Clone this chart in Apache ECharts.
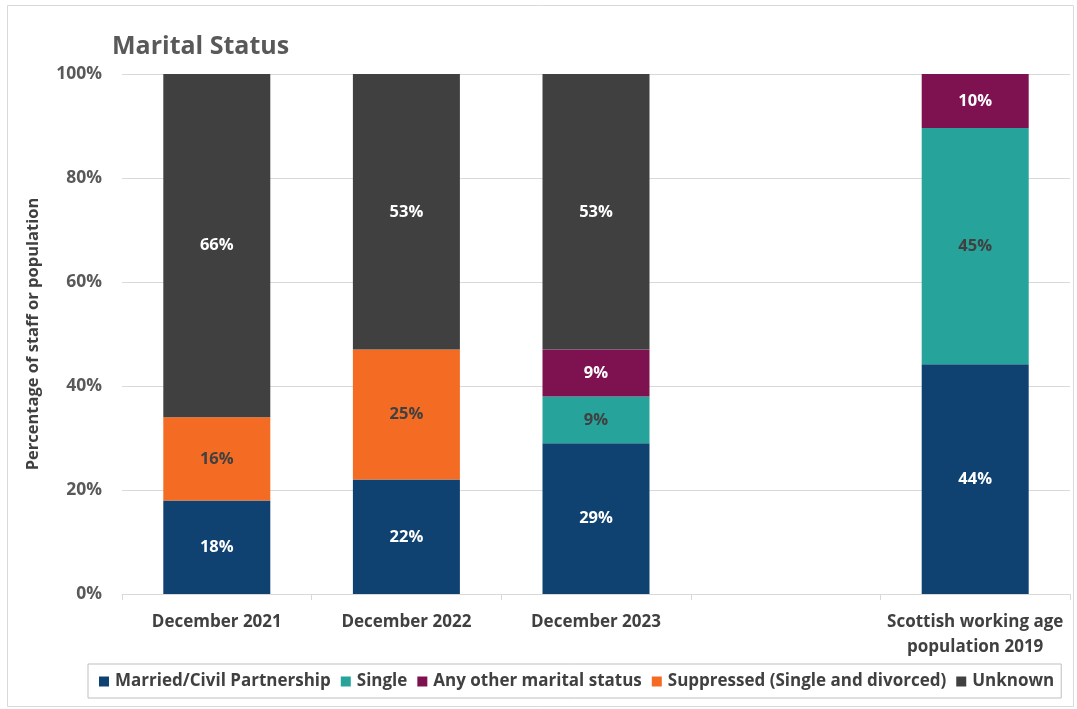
<!DOCTYPE html>
<html>
<head>
<meta charset="utf-8">
<title>Marital Status</title>
<script src="https://cdn.jsdelivr.net/npm/echarts@6/dist/echarts.min.js"></script>
<style>
  html, body { margin: 0; padding: 0; background: #ffffff; }
  #chart { width: 1077px; height: 709px; }
</style>
</head>
<body>
<div id="chart"></div>
<script>
// Categories along the x axis (the fourth slot is a deliberate gap)
const categories = [
  'December 2021',
  'December 2022',
  'December 2023',
  '',
  'Scottish working age\npopulation 2019'
];

// Percentage of staff or population in each marital status group
const married    = [18, 22, 29, null, 44.2];
const single     = [null, null, 9, null, 45.4];
const otherStat  = [null, null, 9, null, 10.4];
const suppressed = [16, 25, null, null, null];
const unknown    = [66, 53, 53, null, null];

const yTicks = [0, 20, 40, 60, 80, 100];

const FONT = '"Open Sans", Lato, sans-serif';

function seg(name, data, color, labelColor) {
  return {
    name: name,
    type: 'bar',
    stack: 'total',
    data: data,
    barWidth: 107,
    itemStyle: { color: color },
    label: {
      show: true,
      position: 'inside',
      color: labelColor,
      fontFamily: FONT,
      fontWeight: 'bold',
      fontSize: 16.5,
      formatter: p => (p.value == null ? '' : Math.round(p.value) + '%')
    },
    emphasis: { disabled: true }
  };
}

const chart = echarts.init(document.getElementById('chart'), null, { renderer: 'canvas' });

chart.setOption({
  animation: false,
  backgroundColor: '#ffffff',
  textStyle: { fontFamily: FONT },
  title: {
    text: 'Marital Status',
    left: 107,
    top: 29,
    textStyle: { fontFamily: FONT, fontWeight: 'bold', fontSize: 25, color: '#595959' }
  },
  graphic: [{
    type: 'rect',
    shape: { x: 7.5, y: 5.5, width: 1066, height: 701 },
    style: { fill: 'none', stroke: '#d9d9d9', lineWidth: 1 },
    silent: true
  }],
  grid: { left: 122, right: 7, top: 74, bottom: 115, containLabel: false },
  legend: {
    left: 88,
    top: 664,
    itemWidth: 10,
    itemHeight: 10,
    itemGap: 10,
    padding: [9, 7, 8, 11],
    borderColor: '#bfbfbf',
    borderWidth: 1,
    icon: 'rect',
    textStyle: { fontFamily: FONT, fontWeight: 'bold', fontSize: 17, color: '#404040', padding: [0, 0, 0, 1] },
    data: ['Married/Civil Partnership', 'Single', 'Any other marital status',
           'Suppressed (Single and divorced)', 'Unknown']
  },
  xAxis: {
    type: 'category',
    data: categories,
    axisLine: { lineStyle: { color: '#d9d9d9', width: 1 } },
    axisTick: { show: true, length: 6, lineStyle: { color: '#d9d9d9' } },
    axisLabel: {
      fontFamily: FONT, fontWeight: 'bold', fontSize: 17, color: '#404040',
      margin: 16, lineHeight: 25, interval: 0
    }
  },
  yAxis: {
    type: 'value',
    min: yTicks[0],
    max: yTicks[yTicks.length - 1],
    interval: 20,
    name: 'Percentage of staff or population',
    nameLocation: 'middle',
    nameGap: 80,
    nameTextStyle: { fontFamily: FONT, fontWeight: 'bold', fontSize: 16.5, color: '#404040' },
    axisLine: { show: false },
    axisTick: { show: false },
    axisLabel: {
      fontFamily: FONT, fontWeight: 'bold', fontSize: 17.5, color: '#595959', margin: 20,
      formatter: v => v + '%'
    },
    splitLine: { lineStyle: { color: '#d9d9d9', width: 1 } }
  },
  series: [
    seg('Married/Civil Partnership', married, '#0f4270', '#ffffff'),
    seg('Single', single, '#26a39a', '#404040'),
    seg('Any other marital status', otherStat, '#7e1251', '#ffffff'),
    seg('Suppressed (Single and divorced)', suppressed, '#f46b23', '#404040'),
    seg('Unknown', unknown, '#404040', '#ffffff')
  ]
});
</script>
</body>
</html>
